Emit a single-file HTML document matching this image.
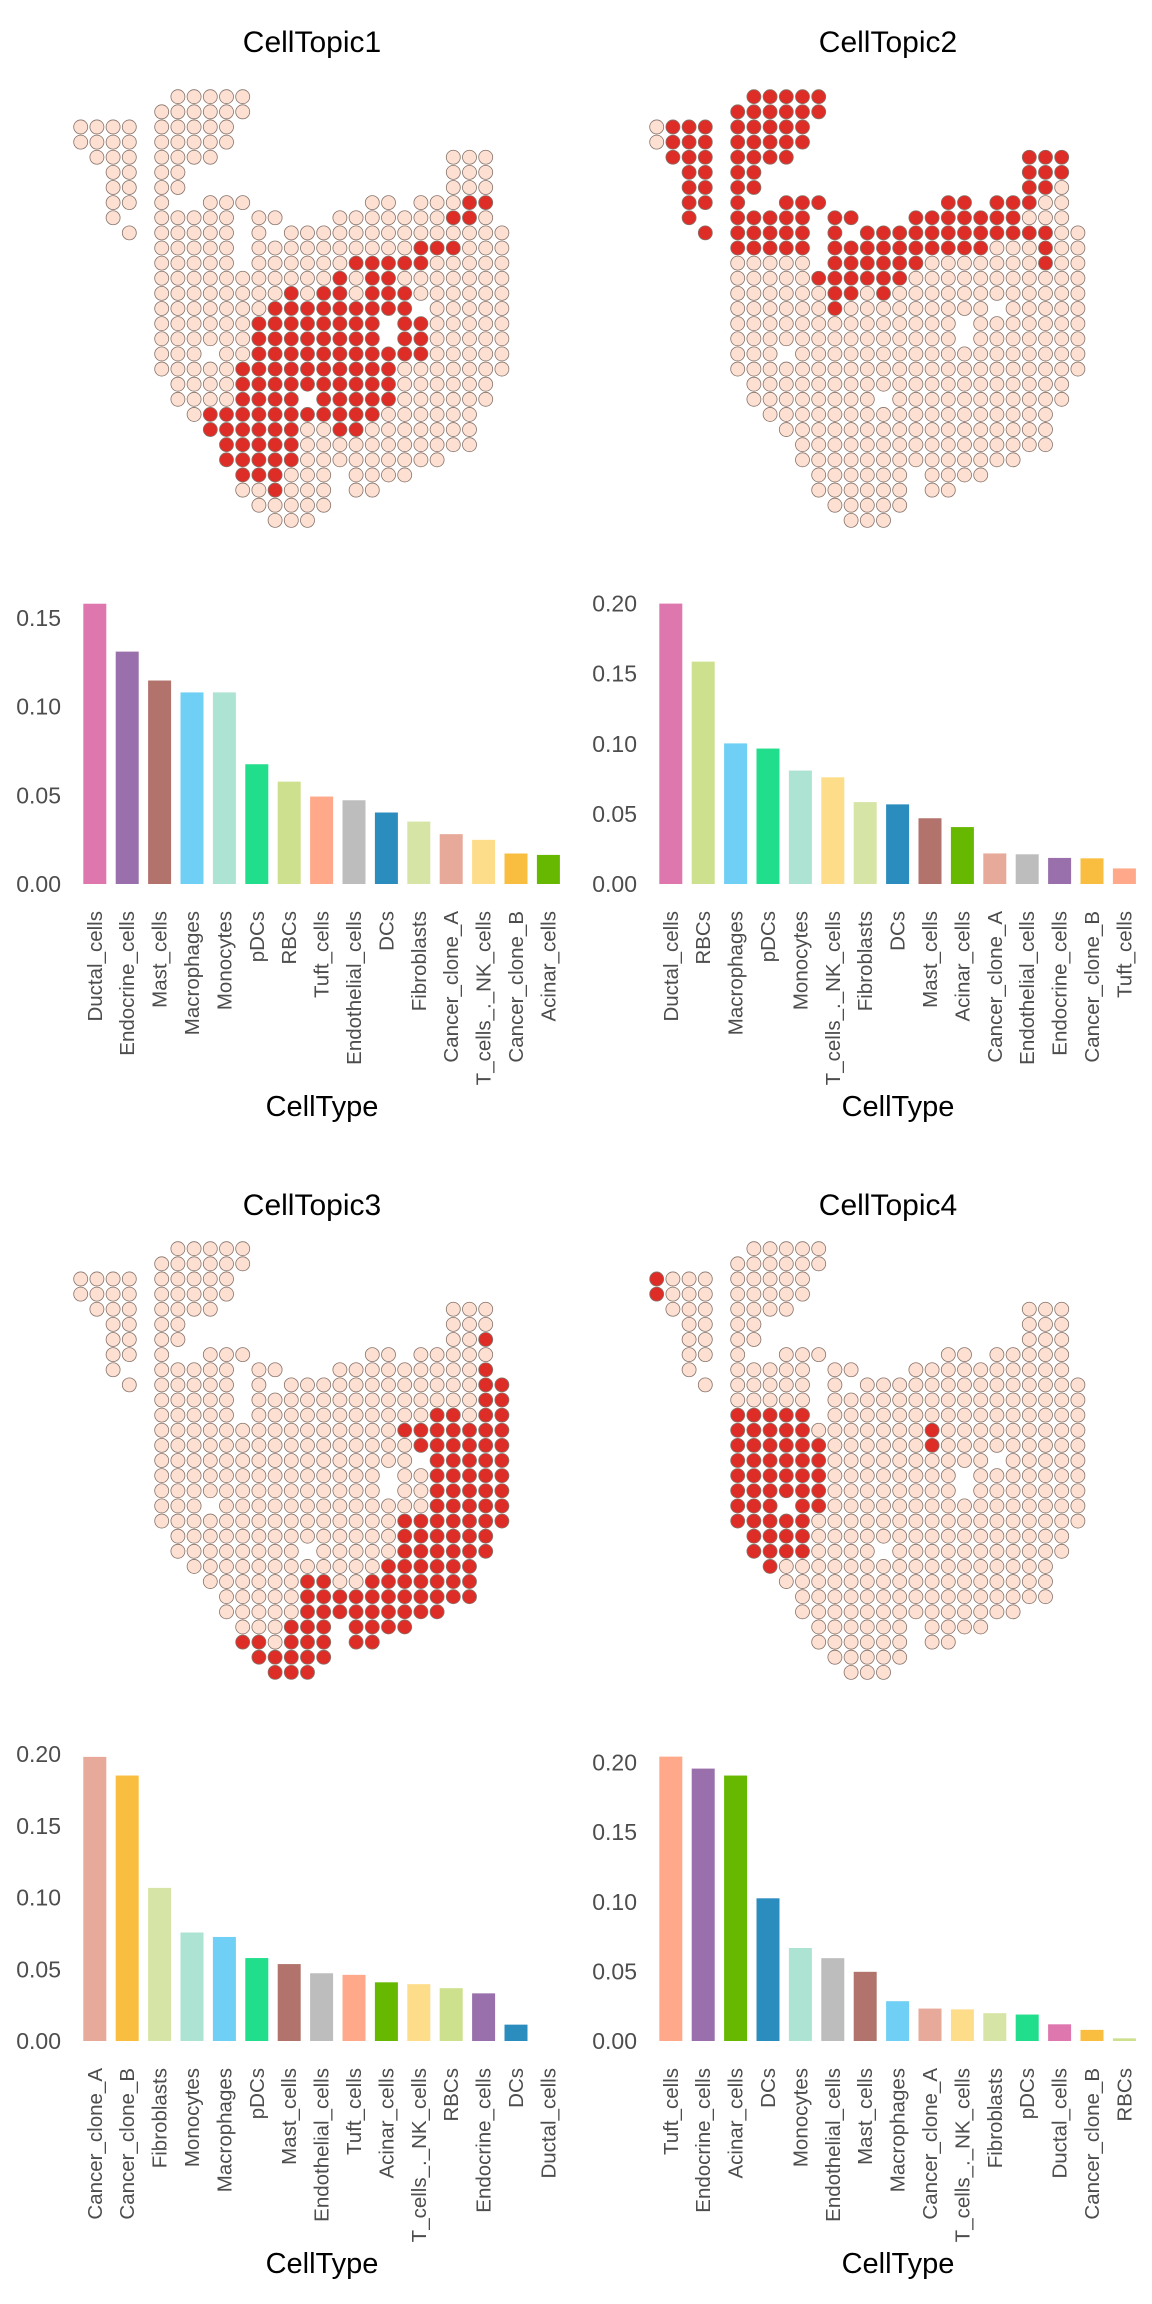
<!DOCTYPE html>
<html><head><meta charset="utf-8"><title>CellTopic charts</title>
<style>
html,body{margin:0;padding:0;background:#fff;}
svg{display:block;font-family:"Liberation Sans",Arial,sans-serif;}
</style></head>
<body>
<svg id="fig" xmlns="http://www.w3.org/2000/svg" width="1152" height="2304" viewBox="0 0 1152 2304">
<rect x="0" y="0" width="1152" height="2304" fill="#ffffff"/>
<text x="312" y="52" font-size="30" text-anchor="middle" fill="#000">CellTopic1</text>
<text x="888" y="52" font-size="30" text-anchor="middle" fill="#000">CellTopic2</text>
<text x="312" y="1215" font-size="30" text-anchor="middle" fill="#000">CellTopic3</text>
<text x="888" y="1215" font-size="30" text-anchor="middle" fill="#000">CellTopic4</text>
</svg>
<script>
const tissueRows = [
 [[6,10]],[[5,10]],[[0,3],[5,9]],[[0,3],[5,9]],[[1,3],[5,8],[23,25]],
 [[2,3],[5,6],[23,25]],[[2,3],[5,6],[23,25]],[[2,3],[5,5],[8,10],[18,19],[21,25]],
 [[2,2],[5,9],[11,12],[16,25]],[[3,3],[5,9],[11,11],[13,26]],[[5,9],[11,26]],[[5,9],[11,26]],
 [[5,26]],[[5,26]],[[5,20],[22,26]],[[5,18],[20,26]],[[5,18],[20,26]],[[5,7],[9,26]],
 [[5,26]],[[6,25]],[[6,13],[15,25]],[[7,24]],[[8,24]],[[9,24]],[[9,22]],
 [[10,15],[17,20]],[[10,15],[17,18]],[[11,15]],[[12,14]]
];
const red1 = [[7,24,25],[8,23,24],[10,21,23],[11,17,21],[12,16,16],[12,18,19],[13,13,13],[13,15,16],[13,18,20],
 [14,12,20],[15,11,18],[15,20,21],[16,11,18],[16,20,21],[17,11,21],[18,10,19],[19,10,19],[20,10,13],[20,15,19],
 [21,8,18],[22,8,13],[22,16,17],[23,9,13],[24,9,13],[25,10,12],[26,12,12]];
const red2 = [[0,6,10],[1,5,10],[2,1,3],[2,5,9],[3,1,3],[3,5,9],[4,1,3],[4,5,8],[4,23,25],[5,2,3],[5,5,6],[5,23,25],
 [6,2,3],[6,5,6],[6,23,24],[7,2,3],[7,5,5],[7,8,10],[7,18,19],[7,21,23],[8,2,2],[8,5,9],[8,11,12],[8,16,22],
 [9,3,3],[9,5,9],[9,11,11],[9,13,24],[10,5,9],[10,11,20],[10,24,24],[11,11,16],[11,24,24],[12,10,15],
 [13,11,12],[13,14,14],[14,11,11]];
const red3 = [[6,25,25],[8,25,25],[9,25,26],[10,25,26],[11,22,23],[11,25,26],[12,20,26],[13,21,26],[14,22,26],
 [15,22,26],[16,22,26],[17,22,26],[18,20,26],[19,20,25],[20,20,25],[21,19,24],[22,14,15],[22,18,24],[23,14,24],
 [24,14,22],[25,13,15],[25,17,20],[26,10,11],[26,13,15],[26,17,18],[27,11,15],[28,12,14]];
const red4 = [[2,0,0],[3,0,0],[11,5,9],[12,5,9],[12,17,17],[13,5,10],[13,17,17],[14,5,10],[15,5,10],[16,5,10],
 [17,5,7],[17,9,10],[18,5,9],[19,6,9],[20,6,9],[21,7,7]];

const cats1 = ["Ductal_cells","Endocrine_cells","Mast_cells","Macrophages","Monocytes","pDCs","RBCs","Tuft_cells","Endothelial_cells","DCs","Fibroblasts","Cancer_clone_A","T_cells_._NK_cells","Cancer_clone_B","Acinar_cells"];
const vals1 = [0.158,0.131,0.1147,0.108,0.108,0.0675,0.0577,0.0493,0.0472,0.0403,0.0352,0.0281,0.0249,0.0172,0.0164];
const cats2 = ["Ductal_cells","RBCs","Macrophages","pDCs","Monocytes","T_cells_._NK_cells","Fibroblasts","DCs","Mast_cells","Acinar_cells","Cancer_clone_A","Endothelial_cells","Endocrine_cells","Cancer_clone_B","Tuft_cells"];
const vals2 = [0.200,0.1586,0.1003,0.0966,0.0809,0.0761,0.0584,0.0568,0.0469,0.0406,0.0218,0.0212,0.0186,0.0183,0.0111];
const cats3 = ["Cancer_clone_A","Cancer_clone_B","Fibroblasts","Monocytes","Macrophages","pDCs","Mast_cells","Endothelial_cells","Tuft_cells","Acinar_cells","T_cells_._NK_cells","RBCs","Endocrine_cells","DCs","Ductal_cells"];
const vals3 = [0.198,0.185,0.1067,0.0756,0.0725,0.0578,0.0536,0.0472,0.0461,0.0409,0.0396,0.0368,0.0332,0.0114,0.0];
const cats4 = ["Tuft_cells","Endocrine_cells","Acinar_cells","DCs","Monocytes","Endothelial_cells","Mast_cells","Macrophages","Cancer_clone_A","T_cells_._NK_cells","Fibroblasts","pDCs","Ductal_cells","Cancer_clone_B","RBCs"];
const vals4 = [0.2043,0.1957,0.1907,0.1025,0.0668,0.0595,0.0497,0.0286,0.0233,0.0227,0.020,0.019,0.012,0.008,0.0019];
const ticks1 = ["0.00","0.05","0.10","0.15"];
const ticks2 = ["0.00","0.05","0.10","0.15","0.20"];
const ticks3 = ["0.00","0.05","0.10","0.15","0.20"];
const ticks4 = ["0.00","0.05","0.10","0.15","0.20"];

const colorMap = {
 "Ductal_cells":"#de77ae","Endocrine_cells":"#9970ab","Mast_cells":"#b2736d","Macrophages":"#6fcff4",
 "Monocytes":"#ade3d2","pDCs":"#20de8b","RBCs":"#cde08d","Tuft_cells":"#ffa98a","Endothelial_cells":"#bdbdbd",
 "DCs":"#2b8cbe","Fibroblasts":"#d6e5a5","Cancer_clone_A":"#e6a99a","T_cells_._NK_cells":"#fddd8a",
 "Cancer_clone_B":"#f9bd40","Acinar_cells":"#66b800"};

const NS = "http://www.w3.org/2000/svg";
const svg = document.getElementById("fig");
function mk(tag, attrs){ const e=document.createElementNS(NS,tag); for(const k in attrs) e.setAttribute(k,attrs[k]); return e; }

function drawSpots(ox, oy, reds, idx){
  const g = mk("g",{});
  
  
  svg.appendChild(g);
  const redSet = new Set();
  reds.forEach(([r,a,b])=>{ for(let c=a;c<=b;c++) redSet.add(r+","+c); });
  const sx = c => ox + 80.7 + 16.2*c;
  const sy = r => oy + 96.7 + 15.13*r;
  tissueRows.forEach((ranges,r)=>{
    ranges.forEach(([a,b])=>{
      for(let c=a;c<=b;c++){
        const isRed = redSet.has(r+","+c);
        const ci = mk("circle",{cx:sx(c).toFixed(2),cy:sy(r).toFixed(2),r:7,fill:isRed?"#de2d26":"#fde0d2",stroke:"#86736b","stroke-width":0.8});
        
        
        g.appendChild(ci);
      }
    });
  });
}

function drawBars(ox, y0, perUnit, cats, vals, ticks, idx){
  const g = mk("g",{});
  
  
  svg.appendChild(g);
  const xs = i => ox + 83.3 + 32.4*i;
  const ys = v => y0 - v*perUnit;
  ticks.forEach(t=>{
    const tx = mk("text",{x:ox+61,y:ys(parseFloat(t))+8,"font-size":23,"text-anchor":"end",fill:"#4d4d4d"});
    tx.textContent = t;
    
    
    g.appendChild(tx);
  });
  cats.forEach((c,i)=>{
    const v = vals[i];
    const h = Math.max(v*perUnit, 0);
    const rc = mk("rect",{x:xs(i).toFixed(2),y:(y0-h).toFixed(2),width:23,height:h.toFixed(2),fill:colorMap[c]});
    
    
    g.appendChild(rc);
    const cx = xs(i)+11.5;
    const ly = y0+27;
    const tx = mk("text",{x:0,y:0,"font-size":20.5,"text-anchor":"end",fill:"#4d4d4d",transform:`translate(${(cx+7).toFixed(2)},${ly}) rotate(-90)`});
    tx.textContent = c;
    
    
    g.appendChild(tx);
  });
  const at = mk("text",{x:ox+322,y:y0+232,"font-size":29,"text-anchor":"middle",fill:"#000"});
  at.textContent = "CellType";
  
  
  g.appendChild(at);
}

drawSpots(0, 0, red1, 1);
drawSpots(576, 0, red2, 2);
drawSpots(0, 1152, red3, 3);
drawSpots(576, 1152, red4, 4);
drawBars(0, 884, 1774, cats1, vals1, ticks1, 1);
drawBars(576, 884, 1402, cats2, vals2, ticks2, 2);
drawBars(0, 2041, 1435, cats3, vals3, ticks3, 3);
drawBars(576, 2041, 1392, cats4, vals4, ticks4, 4);
</script>
</body></html>
